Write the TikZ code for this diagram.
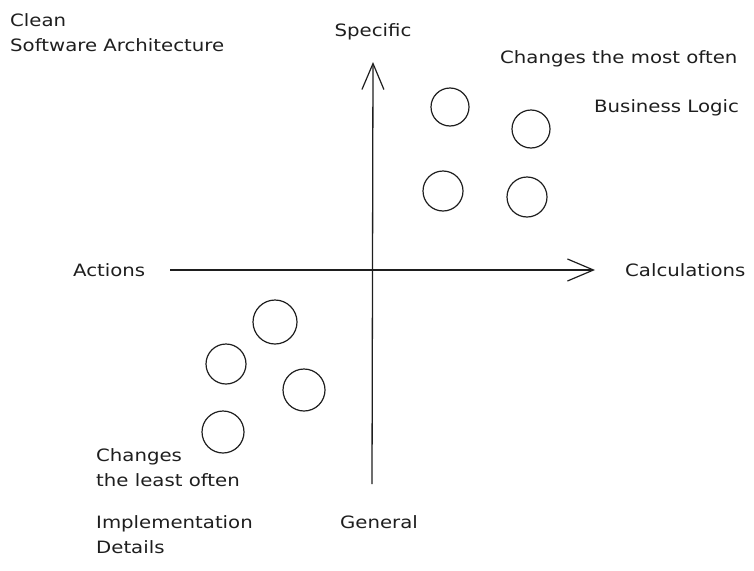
\documentclass[tikz,border=0pt]{standalone}
\usepackage{fontspec}
\setmainfont{DejaVu Sans}
\newfontfamily\handfont[FakeStretch=1.16]{DejaVu Sans}
\usetikzlibrary{arrows.meta}
\definecolor{ink}{HTML}{1E1E1E}
\begin{document}
\begin{tikzpicture}[x=1pt,y=-1pt,
  lbl/.style={font=\handfont\fontsize{17}{25}\selectfont, text=ink, inner sep=0pt, anchor=west, align=left},
  clbl/.style={lbl, anchor=center},
  dot/.style={circle, draw=ink, line width=1.2pt, inner sep=0pt, minimum size=#1},
  axis/.style={draw=ink, line width=1.3pt, -{Straight Barb[length=26pt,width=22pt,line width=1.2pt]}}
]
\useasboundingbox (0,0) rectangle (754,570);
% axes
\coordinate (vbot) at (372,484);
\coordinate (vtop) at (373,62);
\coordinate (hl) at (170,270);
\coordinate (hr) at (595,270);
\draw[axis] (vbot) -- (vtop);
\draw[axis] (hl) -- (hr);
% circles top-right
\node[dot=38pt] (t1) at (450,107) {};
\node[dot=38pt] (t2) at (531,129) {};
\node[dot=40pt] (t3) at (443,191) {};
\node[dot=40pt] (t4) at (527,197) {};
% circles bottom-left
\node[dot=44pt] (b1) at (275,322) {};
\node[dot=40pt] (b2) at (226,364) {};
\node[dot=42pt] (b3) at (304,390) {};
\node[dot=42pt] (b4) at (223,432) {};
% labels
\node[lbl] (title) at (10,33) {Clean\\Software Architecture};
\node[clbl] (specific) at (373,32) {Specific};
\node[lbl] (most) at (500,59) {Changes the most often};
\node[lbl] (business) at (594,108) {Business Logic};
\node[lbl] (actions) at (73,270) {Actions};
\node[lbl] (calc) at (625,270) {Calculations};
\node[lbl] (least) at (96,468) {Changes\\the least often};
\node[lbl] (impl) at (96,535) {Implementation\\Details};
\node[lbl] (general) at (340,522) {General};
\end{tikzpicture}
\end{document}
